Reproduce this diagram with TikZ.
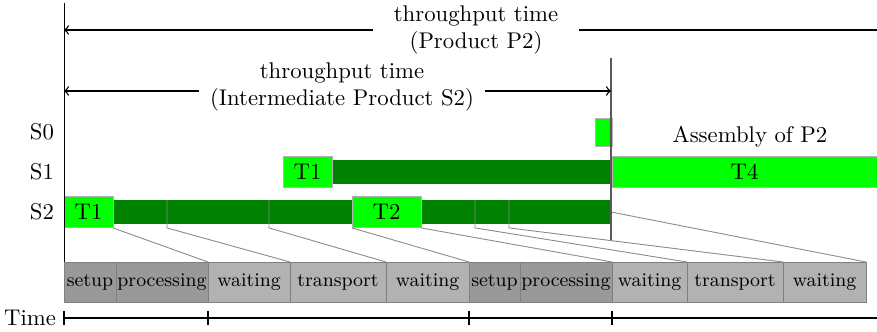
\documentclass[tikz,border=0pt]{standalone}
\usetikzlibrary{positioning,calc}

\begin{document}
\begin{tikzpicture}[
  x=0.44pt, y=-0.44pt,
  task/.style={rectangle, draw=black!30, fill=green, inner sep=0pt, outer sep=0pt,
               minimum width=21.56pt, minimum height=14pt, anchor=west},
  run/.style={rectangle, fill=green!50!black, inner sep=0pt, outer sep=0pt,
              minimum height=10.5pt, anchor=west},
  phase/.style={rectangle, draw=black!50, fill=black!30, inner sep=0pt, outer sep=0pt,
                minimum height=17.6pt, font=\fontsize{8.5}{10}\selectfont},
  busy/.style={phase, fill=black!40},
  link/.style={draw=black!45, line width=0.4pt},
  span/.style={align=center, inner sep=0pt},
  >=to
]
  \useasboundingbox (0,0) rectangle (877,331);

  % Rows
  \node[anchor=east] (s0) at (62,132) {S0};
  \node[anchor=east] (s1) at (62,172) {S1};
  \node[anchor=east] (s2) at (62,212) {S2};

  % S2
  \node[run, minimum width=219.12pt] (s2run) at (113,212) {};
  \node[task] (s2t1) at (64,212) {T1};
  \node[task, minimum width=30.36pt] (t2) at (352,212) {T2};

  % S1
  \node[run, minimum width=122.76pt] (s1run) at (332,172) {};
  \node[task, minimum height=13.6pt] (s1t1) at (283,172) {T1};

  % S0 and assembly
  \node[task, minimum width=7.5pt, minimum height=12.3pt] (s0t) at (595,132) {};
  \node[task, minimum width=116.6pt, minimum height=13.6pt] (t4) at (612,172) {T4};
  \node (asm) at (750,137) {Assembly of P2};

  % Phases
  \node[busy, minimum width=22.88pt, anchor=north west] (setup1) at (64,262) {setup};
  \node[busy, minimum width=40.48pt, right=0pt of setup1] (proc1) {processing};
  \node[phase, minimum width=36.08pt, right=0pt of proc1] (wait1) {waiting};
  \node[phase, minimum width=42.24pt, right=0pt of wait1] (trans1) {transport};
  \node[phase, minimum width=36.52pt, right=0pt of trans1] (wait2) {waiting};
  \node[busy, minimum width=22.44pt, right=0pt of wait2] (setup2) {setup};
  \node[busy, minimum width=40.48pt, right=0pt of setup2] (proc2) {processing};
  \node[phase, minimum width=33pt, right=0pt of proc2] (wait3) {waiting};
  \node[phase, minimum width=42.24pt, right=0pt of wait3] (trans2) {transport};
  \node[phase, minimum width=36.52pt, right=0pt of trans2] (wait4) {waiting};

  % Zoom lines
  \draw[link] (s2t1.south east) -- (wait1.north west);
  \draw[link] (t2.south west) -- (setup2.north west);
  \draw[link] (t2.south east) -- (wait3.north west);
  \foreach \dx/\n in {54/trans1, 156/wait2, 362/trans2, 396/wait4}
    \draw[link] (s2run.north west) ++(\dx,0) coordinate (cut)
      -- (cut |- s2t1.south) -- (\n.north west);
  \draw[link] (s2run.east) -- (wait4.north east);

  % Axes
  \coordinate (ytop) at (64,3);
  \coordinate (asmtop) at (611,58);
  \coordinate (asmbot) at (611,240);
  \draw (ytop) -- (setup1.north west);
  \draw[semithick, black!65] (asmtop) -- (asmbot);

  % Throughput times
  \coordinate (ax1) at (64,30);
  \coordinate (ax1end) at (877,30);
  \node[span, minimum width=90.64pt] (tp) at (476,30) {throughput time\\(Product P2)};
  \draw[semithick, <-] (ax1) -- (tp.west);
  \draw[semithick] (tp.east) -- (ax1end);

  \coordinate (ax2) at (64,91);
  \node[span, minimum width=125.4pt] (ts) at (342,87) {throughput time\\(Intermediate Product S2)};
  \draw[semithick, <-] (ax2) -- (ax2 -| ts.west);
  \draw[semithick, ->] (ax2 -| ts.east) -- (ax2 -| asmtop);

  % Time
  \coordinate (tend) at (877,318);
  \node[anchor=east] (time) at (64,318) {Time};
  \draw[thick] (setup1.west |- tend) -- (tend);
  \foreach \n in {setup1, wait1, setup2, wait3}
    \draw[thick] (\n.west |- tend) ++(0,-7) -- ++(0,14);
\end{tikzpicture}
\end{document}
